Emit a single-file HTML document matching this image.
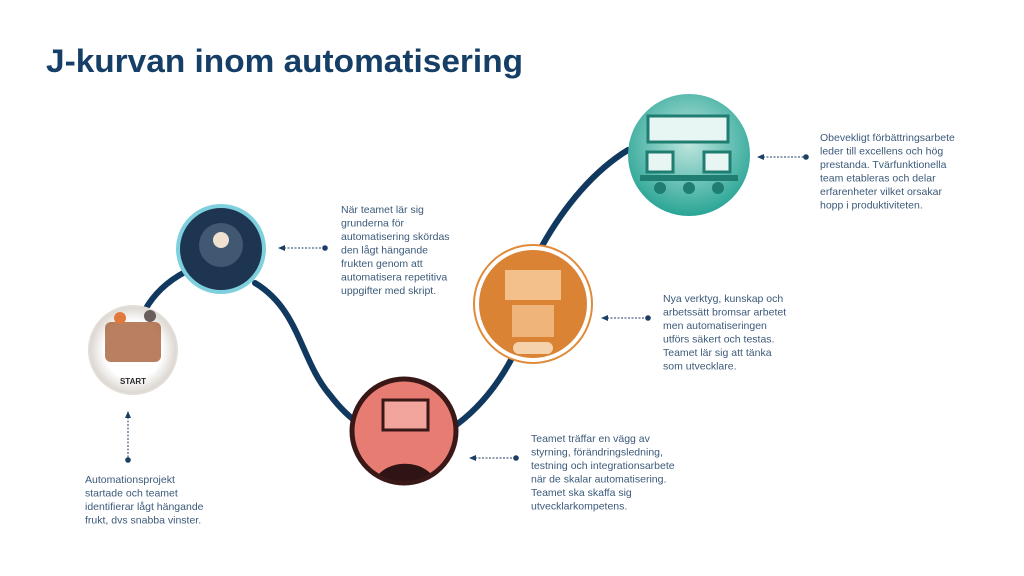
<!DOCTYPE html>
<html><head><meta charset="utf-8"><style>
html,body{margin:0;padding:0;background:#fff;}
svg{display:block;}
.t{font-family:"Liberation Sans",sans-serif;font-size:10.5px;fill:#3c5a7a;}
</style></head><body>
<svg width="1024" height="576" viewBox="0 0 1024 576" xmlns="http://www.w3.org/2000/svg">
<defs>
<radialGradient id="gT" cx="50%" cy="40%" r="60%"><stop offset="0" stop-color="#bfe6df"/><stop offset="1" stop-color="#2aa596"/></radialGradient>
<radialGradient id="gS" cx="50%" cy="50%" r="55%"><stop offset="0.6" stop-color="#fff"/><stop offset="1" stop-color="#cfc8c0"/></radialGradient>
<clipPath id="cR"><circle cx="404" cy="431" r="50"/></clipPath>
</defs>
<text x="46" y="72" font-family="Liberation Sans,sans-serif" font-weight="bold" font-size="32" fill="#153f66" textLength="477" lengthAdjust="spacingAndGlyphs">J-kurvan inom automatisering</text>

<g fill="none" stroke="#11385e" stroke-width="6" stroke-linecap="round">
<path d="M145,310 C155,292 170,280 185,272"/>
<path d="M255,283 C300,310 300,360 330,395 C340,408 350,418 360,424"/>
<path d="M452,428 C475,412 495,390 512,358"/>
<path d="M542,246 C565,205 595,170 628,150"/>
</g>

<circle cx="133" cy="350" r="44" fill="url(#gS)" stroke="#e2ddd6" stroke-width="2"/>
<rect x="105" y="322" width="56" height="40" rx="6" fill="#a0552c" opacity="0.75"/>
<circle cx="120" cy="318" r="6" fill="#e07a3c"/><circle cx="150" cy="316" r="6" fill="#6a5e5a"/>
<text x="133" y="384" text-anchor="middle" font-family="Liberation Sans,sans-serif" font-weight="bold" font-size="8" fill="#2a2a2a">START</text>

<circle cx="221" cy="249" r="43" fill="#1d3550" stroke="#7fd0df" stroke-width="4"/>
<circle cx="221" cy="245" r="22" fill="#5a7088" opacity="0.6"/>
<circle cx="221" cy="240" r="8" fill="#f0e0d0"/>

<circle cx="404" cy="431" r="52" fill="#e77c72" stroke="#3a1818" stroke-width="5"/>
<rect x="383" y="400" width="45" height="30" fill="#f1a59c" stroke="#3a1818" stroke-width="3"/>
<g clip-path="url(#cR)"><path d="M372,490 C375,455 435,455 438,490 Z" fill="#2e1414"/></g>

<circle cx="533" cy="304" r="59" fill="#fff" stroke="#e08a3a" stroke-width="2"/>
<circle cx="533" cy="304" r="54" fill="#db8335"/>
<rect x="505" y="270" width="56" height="30" fill="#f3c08c"/>
<rect x="512" y="305" width="42" height="32" fill="#f3c08c" opacity="0.8"/>
<rect x="513" y="342" width="40" height="12" rx="6" fill="#f5d2ab"/>

<circle cx="689" cy="155" r="61" fill="url(#gT)"/>
<rect x="648" y="116" width="80" height="26" fill="#e8f6f3" stroke="#1f7d72" stroke-width="3"/>
<rect x="647" y="152" width="26" height="20" fill="#e8f6f3" stroke="#1f7d72" stroke-width="3"/>
<rect x="704" y="152" width="26" height="20" fill="#e8f6f3" stroke="#1f7d72" stroke-width="3"/>
<rect x="640" y="175" width="98" height="6" fill="#1f7d72"/>
<circle cx="660" cy="188" r="6" fill="#1f7d72"/><circle cx="689" cy="188" r="6" fill="#1f7d72"/><circle cx="718" cy="188" r="6" fill="#1f7d72"/>

<g stroke="#1d3f66" stroke-width="1" stroke-dasharray="2,1.5" fill="none">
<line x1="284" y1="248" x2="325" y2="248"/>
<line x1="763" y1="157" x2="806" y2="157"/>
<line x1="607" y1="318" x2="648" y2="318"/>
<line x1="475" y1="458" x2="516" y2="458"/>
<line x1="128" y1="417" x2="128" y2="460"/>
</g>
<g fill="#1d3f66">
<circle cx="325" cy="248" r="2.8"/><path d="M278,248 l7,-3 v6z"/>
<circle cx="806" cy="157" r="2.8"/><path d="M757,157 l7,-3 v6z"/>
<circle cx="648" cy="318" r="2.8"/><path d="M601,318 l7,-3 v6z"/>
<circle cx="516" cy="458" r="2.8"/><path d="M469,458 l7,-3 v6z"/>
<circle cx="128" cy="460" r="2.8"/><path d="M128,411 l-3,7 h6z"/>
</g>

<text class="t" x="341" y="213"><tspan x="341">När teamet lär sig</tspan><tspan x="341" dy="13.5">grunderna för</tspan><tspan x="341" dy="13.5">automatisering skördas</tspan><tspan x="341" dy="13.5">den lågt hängande</tspan><tspan x="341" dy="13.5">frukten genom att</tspan><tspan x="341" dy="13.5">automatisera repetitiva</tspan><tspan x="341" dy="13.5">uppgifter med skript.</tspan></text>

<text class="t" x="820" y="141"><tspan x="820">Obevekligt förbättringsarbete</tspan><tspan x="820" dy="13.5">leder till excellens och hög</tspan><tspan x="820" dy="13.5">prestanda. Tvärfunktionella</tspan><tspan x="820" dy="13.5">team etableras och delar</tspan><tspan x="820" dy="13.5">erfarenheter vilket orsakar</tspan><tspan x="820" dy="13.5">hopp i produktiviteten.</tspan></text>

<text class="t" x="663" y="302"><tspan x="663">Nya verktyg, kunskap och</tspan><tspan x="663" dy="13.5">arbetssätt bromsar arbetet</tspan><tspan x="663" dy="13.5">men automatiseringen</tspan><tspan x="663" dy="13.5">utförs säkert och testas.</tspan><tspan x="663" dy="13.5">Teamet lär sig att tänka</tspan><tspan x="663" dy="13.5">som utvecklare.</tspan></text>

<text class="t" x="531" y="442"><tspan x="531">Teamet träffar en vägg av</tspan><tspan x="531" dy="13.5">styrning, förändringsledning,</tspan><tspan x="531" dy="13.5">testning och integrationsarbete</tspan><tspan x="531" dy="13.5">när de skalar automatisering.</tspan><tspan x="531" dy="13.5">Teamet ska skaffa  sig</tspan><tspan x="531" dy="13.5">utvecklarkompetens.</tspan></text>

<text class="t" x="85" y="483"><tspan x="85">Automationsprojekt</tspan><tspan x="85" dy="13.5">startade och teamet</tspan><tspan x="85" dy="13.5">identifierar lågt hängande</tspan><tspan x="85" dy="13.5">frukt, dvs snabba vinster.</tspan></text>
</svg>
</body></html>
